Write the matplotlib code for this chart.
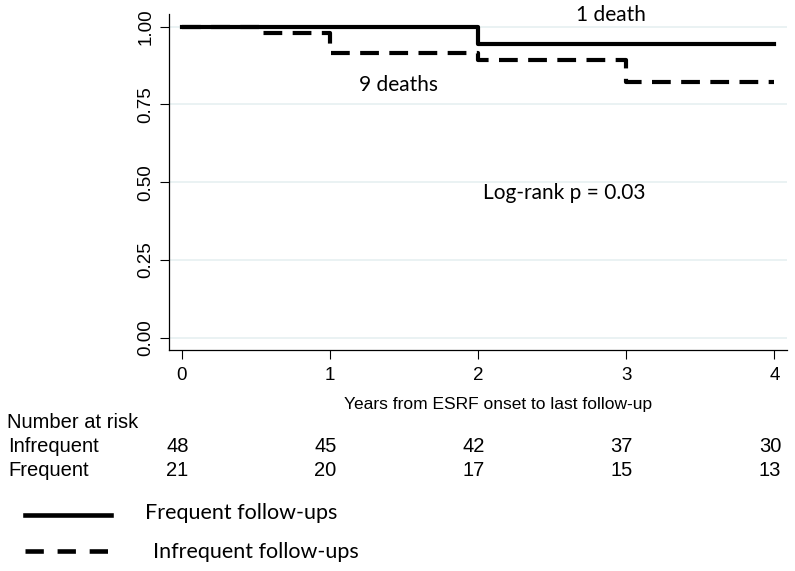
import matplotlib.pyplot as plt
import matplotlib.transforms as mtransforms
from matplotlib.lines import Line2D

# Data
years = [0, 1, 2, 3, 4]
frequent_t = [0, 2, 4]
frequent_s = [1.0, 0.943, 0.943]
infrequent_t = [0, 0.55, 1, 2, 3, 4]
infrequent_s = [1.0, 0.979, 0.916, 0.893, 0.821, 0.821]
risk_infrequent = [48, 45, 42, 37, 30]
risk_frequent = [21, 20, 17, 15, 13]
yticks = [0, 0.25, 0.5, 0.75, 1.0]
ytick_labels = ["0.00", "0.25", "0.50", "0.75", "1.00"]

W, H = 795, 571
stata_font = "Liberation Sans"
note_font = "Lato"

fig = plt.figure(figsize=(W / 100, H / 100), dpi=100)
ax = fig.add_axes([169 / W, 1 - 350 / H, (787 - 169) / W, (350 - 14) / H])

# Grid lines
for y in yticks:
    ax.axhline(y, color="#e6f0f1", linewidth=1.2, zorder=0)

# Survival curves
ax.step(infrequent_t, infrequent_s, where="post", color="black", linewidth=3,
        dashes=(4.5, 2.5), zorder=2)
ax.step(frequent_t, frequent_s, where="post", color="black", linewidth=3, zorder=3)

ax.set_xlim(-0.086, 4.085)
ax.set_ylim(-0.0395, 1.041)
ax.set_xticks(years)
ax.set_xticklabels([str(y) for y in years], fontsize=13.5, family=stata_font)
ax.set_yticks(yticks)
ax.set_yticklabels(ytick_labels, fontsize=13.5, family=stata_font, rotation=90, va="center")
ax.tick_params(length=6.5, width=0.8)
ax.tick_params(axis="x", pad=6)
ax.tick_params(axis="y", pad=4)

for side in ["top", "right"]:
    ax.spines[side].set_visible(False)
for side in ["left", "bottom"]:
    ax.spines[side].set_linewidth(0.9)

ax.set_xlabel("Years from ESRF onset to last follow-up", fontsize=12.5, family=stata_font)
ax.xaxis.set_label_coords(0.532, -0.14)

# Annotations
ax.text(2.9, 1.037, "1 death", fontsize=15, family=note_font, ha="center", va="center")
ax.text(1.46, 0.8125, "9 deaths", fontsize=15, family=note_font, ha="center", va="center")
ax.text(2.58, 0.465, "Log-rank p = 0.03", fontsize=15, family=note_font, ha="center", va="center")

# Number at risk table
trans = mtransforms.blended_transform_factory(ax.transData, fig.transFigure)
fig.text(7 / W, 1 - 423 / H, "Number at risk", fontsize=14.5, family=stata_font, va="center")
fig.text(8 / W, 1 - 447 / H, "Infrequent", fontsize=14.5, family=stata_font, va="center")
fig.text(8 / W, 1 - 470 / H, "Frequent", fontsize=14.5, family=stata_font, va="center")
for t, a, b in zip(years, risk_infrequent, risk_frequent):
    fig.text(t - 0.03, 1 - 447 / H, str(a), transform=trans, fontsize=14.5,
             family=stata_font, ha="center", va="center")
    fig.text(t - 0.03, 1 - 470 / H, str(b), transform=trans, fontsize=14.5,
             family=stata_font, ha="center", va="center")

# Legend drawn below the table
fig.add_artist(Line2D([25 / W, 111 / W], [1 - 515 / H, 1 - 515 / H], color="black",
                      linewidth=3.3, transform=fig.transFigure))
fig.add_artist(Line2D([25 / W, 111 / W], [1 - 551 / H, 1 - 551 / H], color="black",
                      linewidth=3.3, dashes=(4, 3), transform=fig.transFigure))
fig.text(145 / W, 1 - 513 / H, "Frequent follow-ups", fontsize=15.5, family=note_font, va="center")
fig.text(153 / W, 1 - 552 / H, "Infrequent follow-ups", fontsize=15.5, family=note_font, va="center")

fig.savefig("out.png", dpi=100)
